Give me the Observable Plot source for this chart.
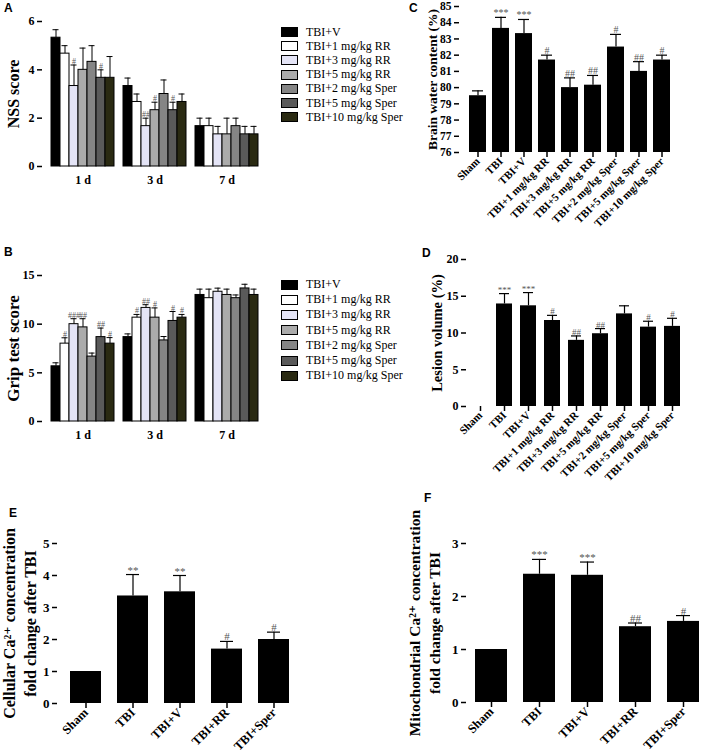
<!DOCTYPE html>
<html><head><meta charset="utf-8">
<script src="https://cdn.jsdelivr.net/npm/d3@7"></script>
<script src="https://cdn.jsdelivr.net/npm/@observablehq/plot@0.6"></script>
<style>
body{margin:0;background:#fff;}
#root{position:relative;width:709px;height:756px;overflow:hidden;background:#fff;}
.panel{position:absolute;}
.letter{position:absolute;font:bold 12px "Liberation Sans",Arial,sans-serif;color:#000;}
.legend{position:absolute;font:12px "Liberation Serif",serif;color:#000;}
.legend .row{display:flex;align-items:center;white-space:nowrap;}
.legend .sw{width:15px;height:8px;border:1px solid #000;margin-right:8px;}
</style></head><body><div id="root"></div>
<script>
// ---------- data ----------
const days = ["1 d", "3 d", "7 d"];
const groups = ["TBI+V", "TBI+1 mg/kg RR", "TBI+3 mg/kg RR", "TBI+5 mg/kg RR", "TBI+2 mg/kg Sper", "TBI+5 mg/kg Sper", "TBI+10 mg/kg Sper"];
const groupColors = ["#000000", "#ffffff", "#e4e4f6", "#ababab", "#858585", "#5a5a5a", "#2a2a12"];

const nssMean = [[5.33, 4.67, 3.33, 4.0, 4.33, 3.67, 3.67], [3.33, 2.67, 1.67, 2.33, 3.0, 2.33, 2.67], [1.67, 1.67, 1.33, 1.33, 1.67, 1.33, 1.33]];
const nssTop  = [[5.66, 5.0, 4.2, 4.9, 5.0, 4.0, 4.55], [3.66, 3.0, 2.0, 2.66, 3.58, 2.66, 3.0], [2.0, 2.0, 1.66, 2.0, 2.0, 1.66, 1.66]];
const nssSig  = [["", "", "#", "", "", "#", ""], ["", "", "##", "#", "", "#", ""], ["", "", "", "", "", "", ""]];
const nssTicks = [0, 2, 4, 6];

const gripMean = [[5.67, 8.0, 10.0, 9.67, 6.67, 8.67, 8.0], [8.67, 10.67, 11.67, 10.67, 8.33, 10.33, 10.67], [13.0, 12.67, 13.33, 13.0, 12.67, 13.67, 13.0]];
const gripTop  = [[6.03, 8.6, 10.56, 10.56, 7.03, 9.6, 8.62], [9.0, 11.0, 12.0, 11.67, 8.73, 11.3, 11.0], [13.6, 13.6, 13.7, 13.6, 13.0, 14.1, 13.6]];
const gripSig  = [["", "#", "###", "##", "", "##", "#"], ["", "#", "##", "#", "", "#", "#"], ["", "", "", "", "", "", ""]];
const gripTicks = [0, 5, 10, 15];

const treatGroups = ["Sham", "TBI", "TBI+V", "TBI+1 mg/kg RR", "TBI+3 mg/kg RR", "TBI+5 mg/kg RR", "TBI+2 mg/kg Sper", "TBI+5 mg/kg Sper", "TBI+10 mg/kg Sper"];
const waterMean = [79.5, 83.65, 83.33, 81.7, 80.0, 80.15, 82.5, 81.0, 81.7];
const waterTop  = [79.8, 84.33, 84.2, 82.0, 80.6, 80.75, 83.28, 81.6, 82.0];
const waterSig  = ["", "***", "***", "#", "##", "##", "#", "##", "#"];
const waterTicks = [76, 77, 78, 79, 80, 81, 82, 83, 84, 85];

const lesionMean = [0, 13.95, 13.7, 11.7, 9.0, 9.9, 12.6, 10.8, 10.9];
const lesionTop  = [0, 15.36, 15.5, 12.4, 9.6, 10.6, 13.7, 11.6, 12.0];
const lesionSig  = ["", "***", "***", "#", "##", "##", "", "#", "#"];
const lesionTicks = [0, 5, 10, 15, 20];

const caGroups = ["Sham", "TBI", "TBI+V", "TBI+RR", "TBI+Sper"];
const cellCaMean = [1.0, 3.36, 3.49, 1.7, 2.0];
const cellCaTop  = [1.0, 4.03, 4.0, 1.94, 2.23];
const cellCaSig  = ["", "**", "**", "#", "#"];
const cellCaTicks = [0, 1, 2, 3, 4, 5];

const mitoCaMean = [1.0, 2.42, 2.40, 1.43, 1.53];
const mitoCaTop  = [1.0, 2.70, 2.65, 1.50, 1.64];
const mitoCaSig  = ["", "***", "***", "##", "#"];
const mitoCaTicks = [0, 1, 2, 3];

// ---------- helpers ----------
const root = document.getElementById("root");
const SERIF = '"Liberation Serif", "Times New Roman", "DejaVu Serif", serif';
const fmt = d => String(d);
function place(node, left, top) {
  const d = document.createElement("div");
  d.className = "panel"; d.style.left = left + "px"; d.style.top = top + "px";
  d.appendChild(node); root.appendChild(d);
}
function letter(t, left, top) {
  const d = document.createElement("div");
  d.className = "letter"; d.textContent = t; d.style.left = left + "px"; d.style.top = top + "px";
  root.appendChild(d);
}
function legend(left, top, rowH) {
  const d = document.createElement("div");
  d.className = "legend"; d.style.left = left + "px"; d.style.top = top + "px";
  groups.forEach((g, i) => {
    const r = document.createElement("div"); r.className = "row"; r.style.height = rowH + "px";
    const s = document.createElement("div"); s.className = "sw"; s.style.background = groupColors[i];
    const t = document.createElement("span"); t.textContent = g;
    r.appendChild(s); r.appendChild(t); d.appendChild(r);
  });
  root.appendChild(d);
}
const baseStyle = {fontFamily: SERIF, fontWeight: "bold", fontSize: "12px", background: "transparent", color: "#000", overflow: "visible"};

function groupedPanel(o) {
  const rows = [];
  days.forEach((d, i) => groups.forEach((g, j) => rows.push({key: `${d}|${g}`, group: g, value: o.means[i][j], top: o.tops[i][j], sig: o.sigs[i][j]})));
  const domain = [];
  days.forEach((d, i) => { if (i) domain.push(`gap${i}`); groups.forEach(g => domain.push(`${d}|${g}`)); });
  return Plot.plot({
    width: o.width, height: o.height, marginTop: o.mt, marginBottom: o.mb, marginLeft: o.ml, marginRight: o.mr,
    style: baseStyle,
    x: {domain, paddingInner: 0, paddingOuter: 0.7},
    y: {domain: o.yDomain},
    color: {domain: groups, range: groupColors},
    marks: [
      Plot.barY(rows, {x: "key", y: "value", fill: "group", stroke: "#000", strokeWidth: 1}),
      Plot.ruleX(rows, {x: "key", y1: "value", y2: "top", stroke: "#000", strokeWidth: 1}),
      Plot.tickY(rows, {x: "key", y: "top", stroke: "#000", insetLeft: 1.5, insetRight: 1.5}),
      Plot.text(rows, {x: "key", y: "top", text: "sig", dy: -1, lineAnchor: "bottom", fontSize: 8, fill: "#555", fontWeight: "normal"}),
      Plot.axisY({ticks: o.yTicks, tickFormat: fmt, tickSize: 5, tickPadding: 3, line: true, strokeWidth: 1.5, label: null, fontSize: 12}),
      Plot.axisX({ticks: days.map(d => `${d}|${groups[3]}`), tickFormat: k => k.split("|")[0], tickSize: 0, tickPadding: 9, line: true, strokeWidth: 1.5, label: null, fontSize: 12}),
      Plot.text([o.yLabel], {frameAnchor: "left", rotate: -90, dx: o.labelDx, textAnchor: "middle", lineAnchor: "middle", fontSize: o.labelSize, fontWeight: "bold"})
    ]
  });
}

function simplePanel(o) {
  const rows = o.cats.map((c, i) => ({cat: c, value: o.means[i], top: o.tops[i], sig: o.sigs[i]}));
  return Plot.plot({
    width: o.width, height: o.height, marginTop: o.mt, marginBottom: o.mb, marginLeft: o.ml, marginRight: o.mr,
    style: baseStyle,
    x: {domain: o.cats, paddingInner: o.pi, paddingOuter: o.po},
    y: {domain: o.yDomain},
    marks: [
      Plot.barY(rows, {x: "cat", y1: () => o.yDomain[0], y2: "value", fill: "#000"}),
      Plot.ruleX(rows, {x: "cat", y1: "value", y2: "top", stroke: "#000", strokeWidth: 1.2}),
      Plot.tickY(rows.filter(r => r.top > r.value), {x: "cat", y: "top", stroke: "#000", strokeWidth: 1.2, insetLeft: o.capInset, insetRight: o.capInset}),
      Plot.text(rows, {x: "cat", y: "top", text: "sig", dy: -1, lineAnchor: "bottom", fontSize: o.sigSize, fill: "#555", fontWeight: "normal"}),
      Plot.axisY({ticks: o.yTicks, tickFormat: fmt, tickSize: 5, tickPadding: 3, line: true, strokeWidth: 1.5, label: null, fontSize: o.tickSize}),
      Plot.axisX({tickSize: 5, tickPadding: 2, tickRotate: -45, line: true, strokeWidth: 1.5, label: null, fontSize: o.xTickSize}),
      Plot.text([o.yLabel], {frameAnchor: "left", rotate: -90, dx: o.labelDx, textAnchor: "middle", lineAnchor: "middle", lineHeight: o.lineHeight || 1.2, fontSize: o.labelSize, fontWeight: "bold"})
    ]
  });
}

// ---------- panels ----------
place(groupedPanel({means: nssMean, tops: nssTop, sigs: nssSig, yDomain: [0, 6], yTicks: nssTicks, yLabel: "NSS score",
  width: 272, height: 195, mt: 21, mb: 29, ml: 42, mr: 5, labelSize: 16, labelDx: -29}), 0, 0);
legend(281, 25, 14.2);
letter("A", 4, 1);

place(groupedPanel({means: gripMean, tops: gripTop, sigs: gripSig, yDomain: [0, 15], yTicks: gripTicks, yLabel: "Grip test score",
  width: 272, height: 200, mt: 25, mb: 29, ml: 42, mr: 5, labelSize: 17, labelDx: -29}), 0, 250);
legend(281, 277, 15.2);
letter("B", 4, 245);

place(simplePanel({cats: treatGroups, means: waterMean, tops: waterTop, sigs: waterSig, yDomain: [76, 85], yTicks: waterTicks,
  yLabel: "Brain water content (%)", width: 290, height: 239, mt: 5, mb: 88, ml: 59, mr: 10, pi: 0.28, po: 0.32,
  capInset: 3, sigSize: 10, tickSize: 11.5, xTickSize: 11, labelSize: 13.5, labelDx: -28}), 400, 1);
letter("C", 409, 1);

place(simplePanel({cats: treatGroups, means: lesionMean, tops: lesionTop, sigs: lesionSig, yDomain: [0, 20], yTicks: lesionTicks,
  yLabel: "Lesion volume (%)", width: 300, height: 245, mt: 19, mb: 79, ml: 66, mr: 13, pi: 0.33, po: 0.2,
  capInset: 3, sigSize: 9, tickSize: 12, xTickSize: 11, labelSize: 14.5, labelDx: -30}), 400, 240);
letter("D", 422, 246);

place(simplePanel({cats: caGroups, means: cellCaMean, tops: cellCaTop, sigs: cellCaSig, yDomain: [0, 5], yTicks: cellCaTicks,
  yLabel: "Cellular Ca²⁺ concentration\nfold change after TBI", width: 312, height: 306, mt: 93, mb: 53, ml: 57, mr: 10, pi: 0.34, po: 0.23,
  capInset: 9, sigSize: 11, tickSize: 13, xTickSize: 12.5, labelSize: 16, lineHeight: 1.3, labelDx: -39}), 0, 450);
letter("E", 9, 506);

place(simplePanel({cats: caGroups, means: mitoCaMean, tops: mitoCaTop, sigs: mitoCaSig, yDomain: [0, 3], yTicks: mitoCaTicks,
  yLabel: "Mitochondrial Ca²⁺ concentration\nfold change after TBI", width: 349, height: 306, mt: 93, mb: 54, ml: 106, mr: 1, pi: 0.34, po: 0.17,
  capInset: 9, sigSize: 11, tickSize: 13, xTickSize: 12.5, labelSize: 15.5, lineHeight: 1.3, labelDx: -43}), 360, 450);
letter("F", 424, 491);
</script></body></html>
